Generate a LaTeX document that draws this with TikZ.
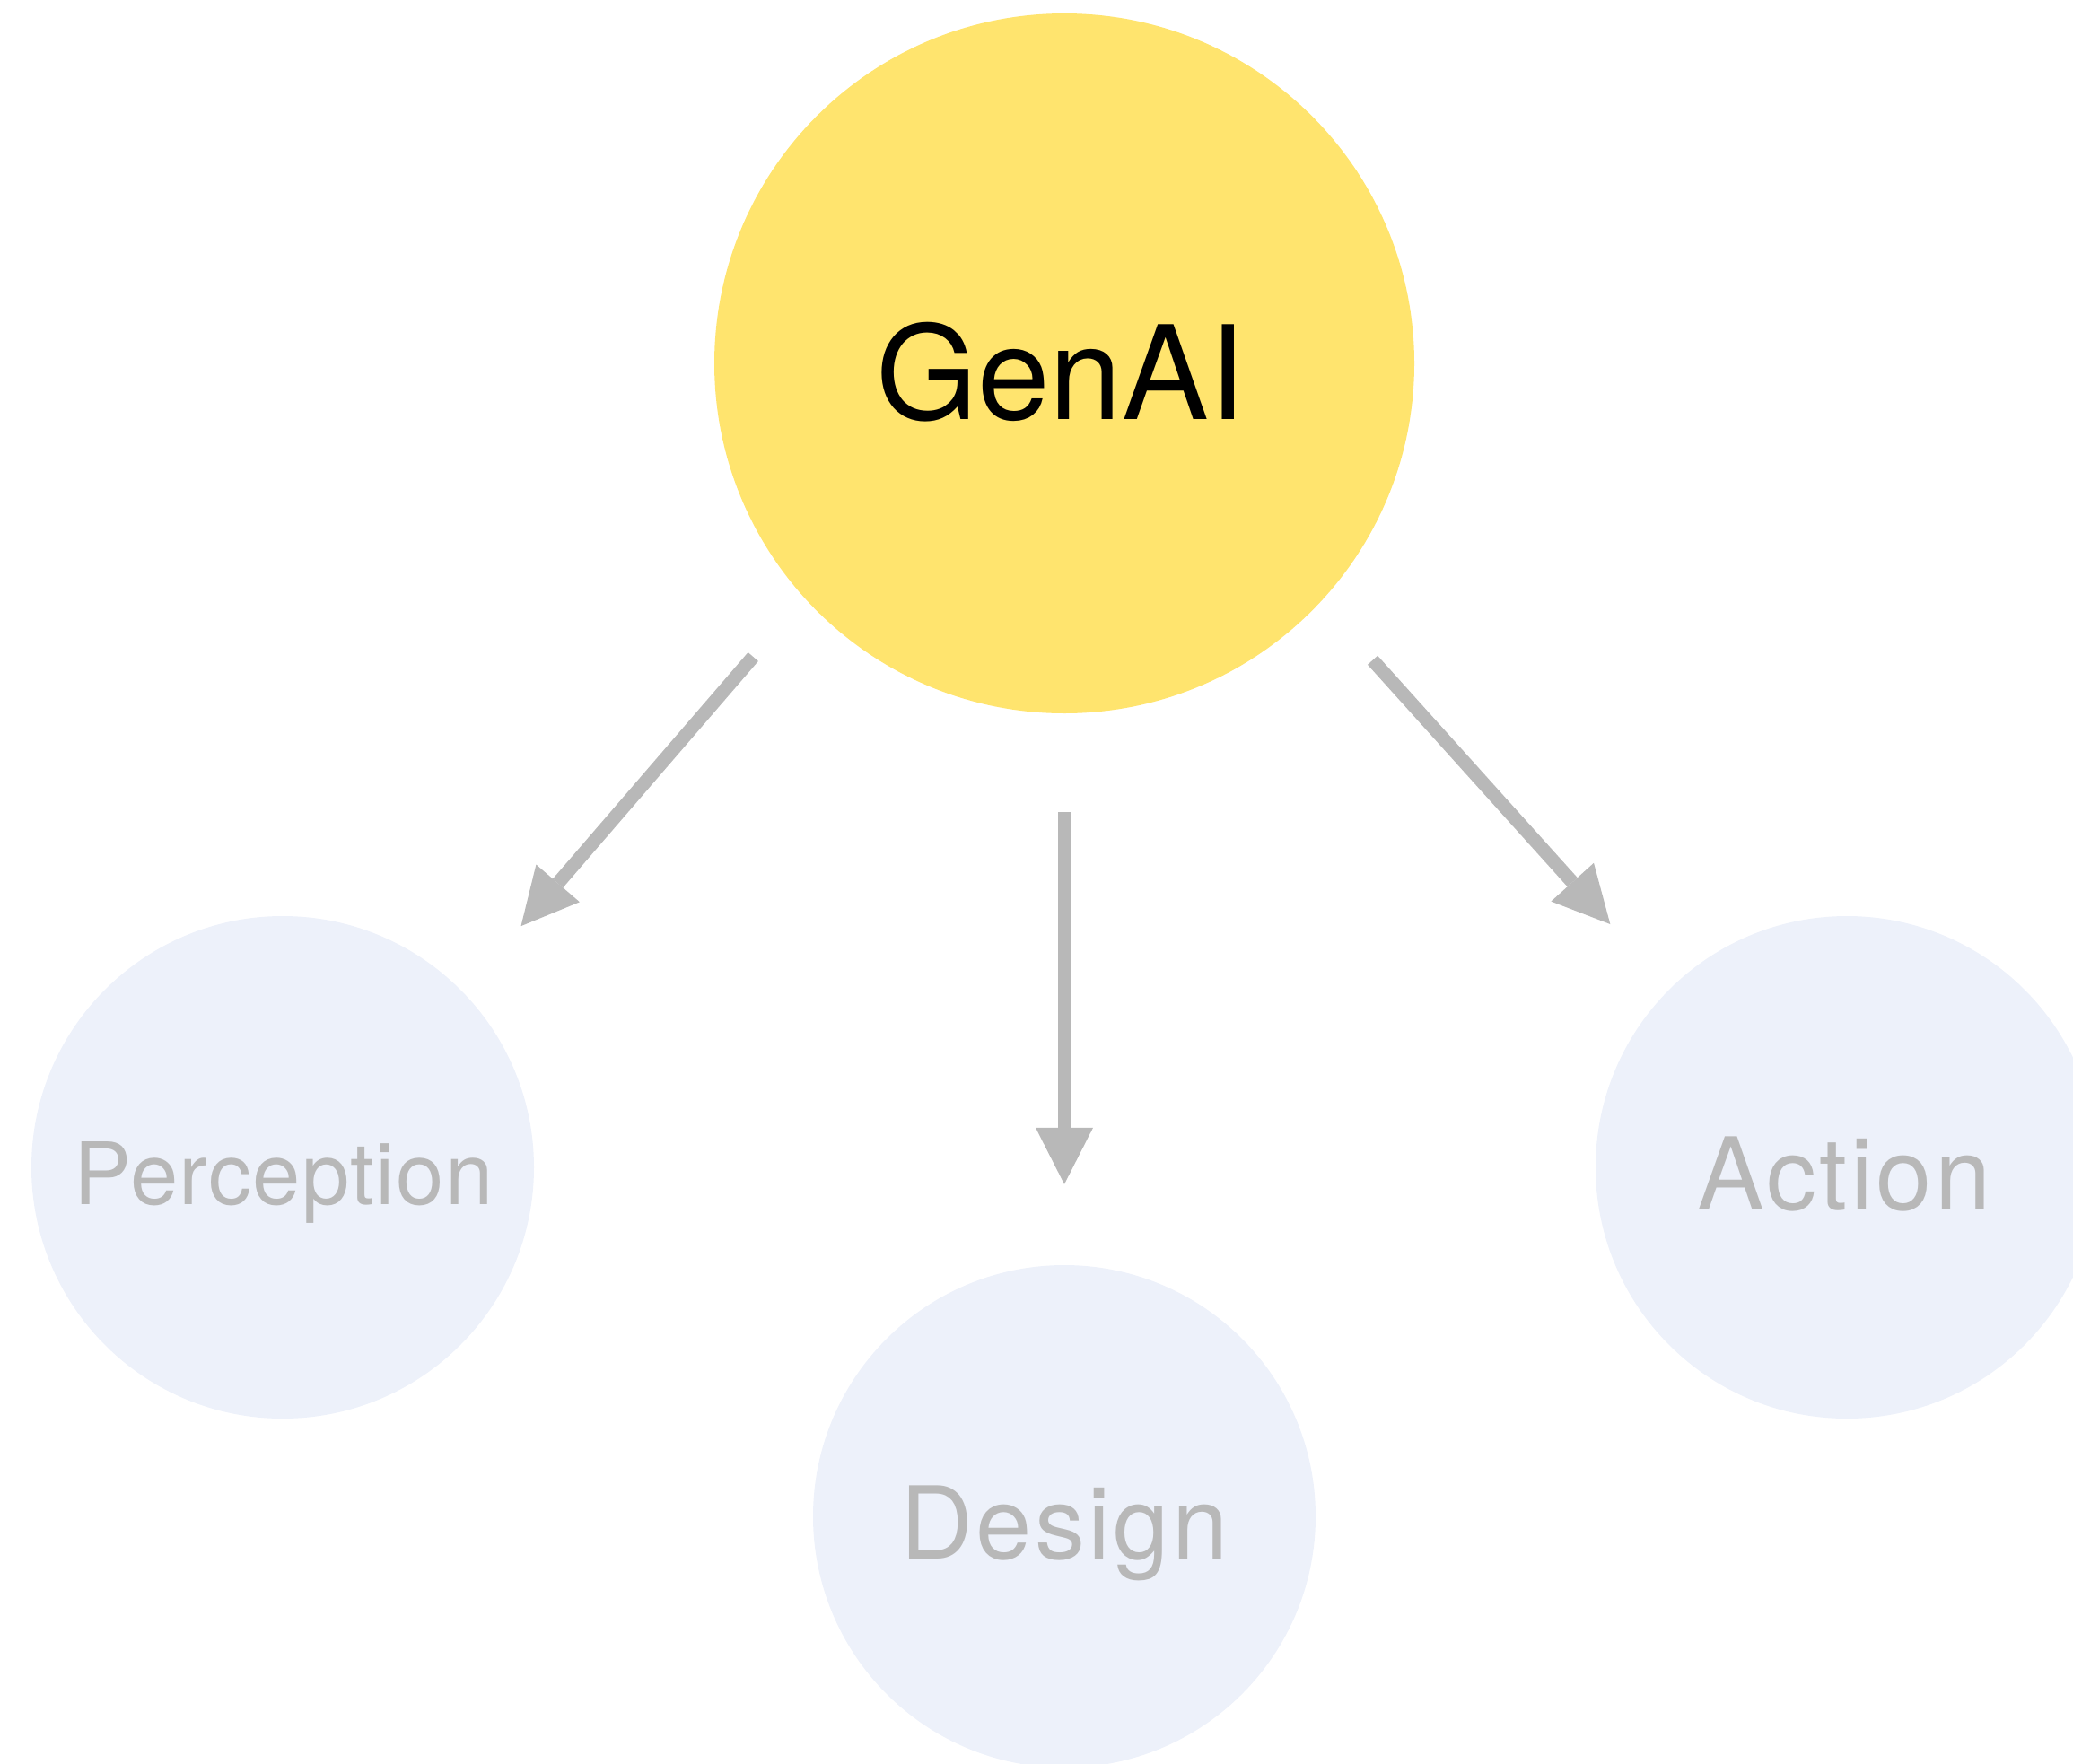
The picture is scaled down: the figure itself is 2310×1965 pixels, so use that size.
\documentclass[tikz,border=0pt]{standalone}
\usepackage{fontspec}
\setmainfont{TeX Gyre Heros}
\usetikzlibrary{arrows.meta,calc}
\definecolor{genyellow}{RGB}{255,228,110}
\definecolor{paleblue}{RGB}{237,241,250}
\definecolor{arrowgray}{RGB}{184,184,184}
\tikzset{
  hub/.style={circle, fill=genyellow, draw=none, minimum size=780pt, inner sep=0pt},
  leaf/.style={circle, fill=paleblue, draw=none, minimum size=560pt, inner sep=0pt},
  hubtext/.style={anchor=base, inner sep=0pt, text=black, font=\fontsize{145}{150}\selectfont},
  leaftext/.style={anchor=base, inner sep=0pt, text=arrowgray, font=\fontsize{112}{120}\selectfont\addfontfeature{LetterSpace=3}},
  smalltext/.style={anchor=base, inner sep=0pt, text=arrowgray, font=\fontsize{96}{100}\selectfont\addfontfeature{LetterSpace=1.4}},
  flow/.style={draw=arrowgray, line width=15pt,
    -{Triangle[length=63pt, width=64pt, line width=0pt]}},
}
\begin{document}
\begin{tikzpicture}[x=1pt, y=-1pt]
  \useasboundingbox (0,0) rectangle (2310,1965);
  \begin{scope}
    \clip (0,0) rectangle (2310,1965);
    % circles
    \node[hub]  (genai) at (1186,405)  {};
    \node[leaf] (perc)  at (315,1301)  {};
    \node[leaf] (design) at (1186,1690) {};
    \node[leaf] (action) at (2058,1301) {};
  \end{scope}
  % labels, placed on their baselines
  \node[hubtext]   (genailbl)  at ($(genai)+(-4,62)$)   {GenAI};
  \node[smalltext] (perclbl)   at ($(perc)+(1,41)$)     {Perception};
  \node[leaftext]  (designlbl) at ($(design)+(0,47)$)   {Design};
  \node[leaftext]  (actionlbl) at ($(action)+(-3,47)$)  {Action};
  % connectors
  \draw[flow, shorten <=87pt, shorten >=98pt] (genai.222.75) -- (perc.44.3);
  \draw[flow, shorten <=110pt, shorten >=90pt] (genai) -- (design);
  \draw[flow, shorten <=87pt, shorten >=98pt] (genai.317.25) -- (action.135.7);
\end{tikzpicture}
\end{document}
